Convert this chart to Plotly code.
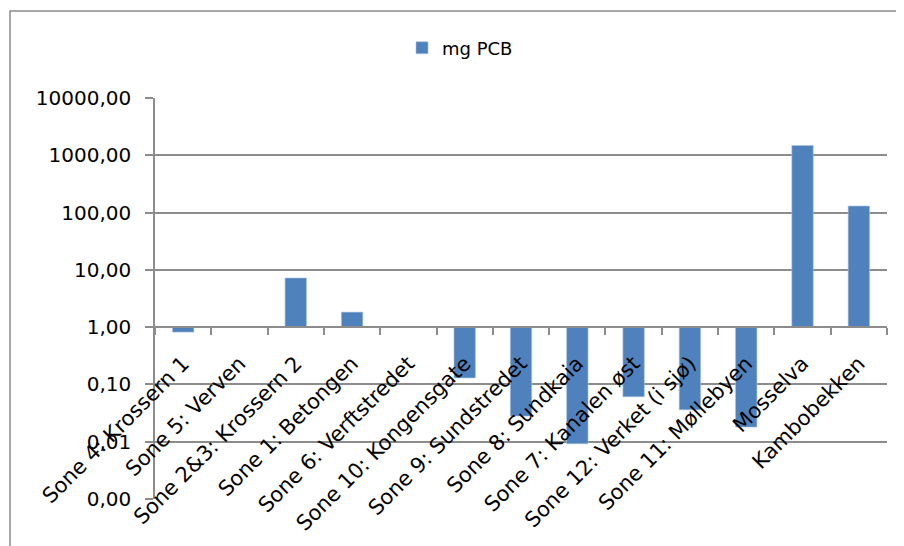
import plotly.graph_objects as go

categories = [
    "Sone 4: Krossern 1", "Sone 5: Verven", "Sone 2&3: Krossern 2", "Sone 1: Betongen",
    "Sone 6: Verftstredet", "Sone 10: Kongensgate", "Sone 9: Sundstredet", "Sone 8: Sundkaia",
    "Sone 7: Kanalen øst", "Sone 12: Verket (i sjø)", "Sone 11: Møllebyen", "Mosselva", "Kambobekken",
]
mg_pcb = [0.82, 1.0, 7.2, 1.83, 1.0, 0.13, 0.028, 0.0092, 0.061, 0.036, 0.018, 1480, 130]
series_name = "mg PCB"
tick_values = [0.001, 0.01, 0.1, 1, 10, 100, 1000, 10000]
tick_labels = ["0,00", "0,01", "0,10", "1,00", "10,00", "100,00", "1000,00", "10000,00"]
bar_base = 1.0

# page body has an 8px margin; work in screen coordinates and subtract it
OFF = 8
W, H = 904 - OFF, 546 - OFF
PL, PR, PT, PB = 155, 887, 98, 499  # plot area in screen px
ML, MT = PL - OFF, PT - OFF
MR, MB = W - (PR - OFF), H - (PB - OFF)
pw, ph = W - ML - MR, H - MT - MB
LOG_MIN, LOG_MAX = -3, 4

FONT = "DejaVu Sans"
GRID = "#8c8c8c"
BAR = "#4f81bd"


def px_x(sx):
    return (sx - PL) / pw


def px_y(sy):
    return (PB - sy) / ph


fig = go.Figure()
fig.add_trace(go.Bar(
    x=categories,
    y=[v - bar_base for v in mg_pcb],
    base=bar_base,
    name=series_name,
    marker=dict(color=BAR, line=dict(color="#a9c1df", width=0.6)),
    showlegend=True,
))

fig.update_layout(
    width=W, height=H,
    margin=dict(l=ML, r=MR, t=MT, b=MB, pad=0),
    paper_bgcolor="white", plot_bgcolor="white",
    bargap=0.62,
    font=dict(family=FONT, size=20, color="#000000"),
    showlegend=True,
    legend=dict(
        orientation="h",
        x=px_x(460), xanchor="center",
        y=px_y(48), yanchor="middle",
        font=dict(family=FONT, size=18),
        bgcolor="rgba(0,0,0,0)",
        itemwidth=30,
    ),
    xaxis=dict(
        type="category",
        anchor="free",
        position=(0 - LOG_MIN) / (LOG_MAX - LOG_MIN),
        showline=True, linecolor=GRID, linewidth=1.5,
        ticks="outside", ticklen=7, tickcolor=GRID, tickwidth=1.5,
        tickson="boundaries",
        tickangle=-45,
        ticklabelstandoff=15,
        tickfont=dict(family=FONT, size=21),
        showgrid=False,
        automargin=False,
        range=[-0.5, len(categories) - 0.5],
    ),
    yaxis=dict(
        type="log",
        range=[LOG_MIN, LOG_MAX],
        tickvals=tick_values,
        ticktext=tick_labels,
        showline=True, linecolor=GRID, linewidth=1.5,
        ticks="outside", ticklen=8, tickcolor=GRID, tickwidth=1.5,
        ticklabelstandoff=10,
        showgrid=True, gridcolor=GRID, gridwidth=1.5,
        zeroline=False,
        tickfont=dict(family=FONT, size=20),
        automargin=False,
    ),
    shapes=[dict(
        type="rect", xref="paper", yref="paper",
        x0=px_x(10), x1=px_x(960),
        y0=px_y(600), y1=px_y(11),
        line=dict(color="#8c8c8c", width=1.5),
        layer="below",
    )],
)

fig.write_html("out.html")
